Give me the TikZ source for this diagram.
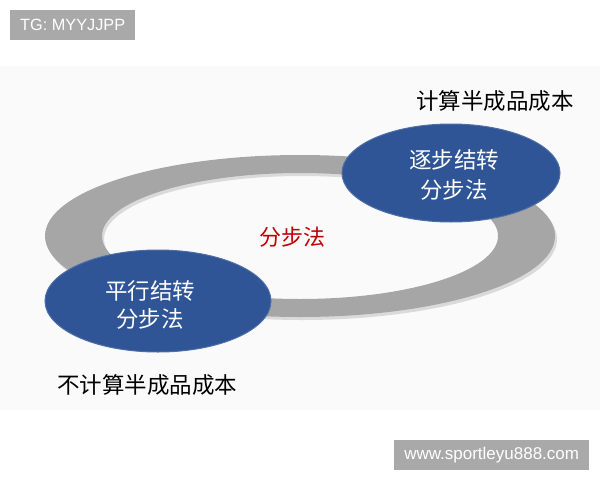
\documentclass[tikz,border=0pt]{standalone}
\usepackage{fontspec}
\setmainfont{Liberation Sans}
\newfontfamily\cjk{Noto Sans CJK SC}
\usetikzlibrary{shapes.geometric}
\definecolor{bgpale}{HTML}{FAFAFB}
\definecolor{ringgray}{HTML}{A6A6A6}
\definecolor{ringrim}{HTML}{DADADA}
\definecolor{blueell}{HTML}{2F5597}
\definecolor{darkred}{HTML}{C00000}
\definecolor{tagbg}{HTML}{A9A9A9}
\tikzset{
  blueoval/.style={ellipse, fill=blueell, draw=blueell!85!white, line width=1pt, inner sep=0pt, text=white, align=center, font=\cjk\fontsize{22}{30}\selectfont},
  caption/.style={inner sep=0pt, text=black, font=\cjk\fontsize{22.5}{26}\selectfont},
  tagbox/.style={fill=tagbg, text=white, inner sep=0pt, anchor=north west}
}
\begin{document}
\begin{tikzpicture}[x=1pt,y=-1pt]
\useasboundingbox (0,0) rectangle (600,480);
\fill[white] (0,0) rectangle (600,480);
\fill[bgpale] (0,66) rectangle (600,410);
% ring rim (shadow) and ring
\fill[ringrim, even odd rule] (302,239) ellipse [x radius=255pt, y radius=81pt]
  (302,239) ellipse [x radius=198pt, y radius=63pt];
\fill[ringgray, even odd rule] (300,236) ellipse [x radius=255pt, y radius=81pt]
  (300,236) ellipse [x radius=198pt, y radius=63pt];
% center label
\node[inner sep=0pt, text=darkred, font=\cjk\fontsize{22}{24}\selectfont] (center) at (292,237) {分步法};
% ovals
\node[blueoval, minimum width=218pt, minimum height=98pt] (topoval) at (451,173) {};
\node[inner sep=0pt, text=white, align=center, font=\cjk\fontsize{22.5}{30}\selectfont] (toptext) at (454,175) {逐步结转\\分步法};
\node[blueoval, minimum width=226pt, minimum height=102pt] (botoval) at (158,301) {};
\node[inner sep=0pt, text=white, align=center, font=\cjk\fontsize{22.5}{28}\selectfont] (bottext) at (150,305) {平行结转\\分步法};
% captions
\node[caption] (captop) at (495,101) {计算半成品成本};
\node[caption] (capbot) at (147,385) {不计算半成品成本};
% tags
\node[tagbox, minimum width=125pt, minimum height=30pt, font=\fontsize{16.3}{18}\selectfont] (tg) at (10,10) {TG: MYYJJPP};
\node[tagbox, minimum width=195pt, minimum height=30pt, font=\fontsize{17}{19}\selectfont] (www) at (394,440) {www.sportleyu888.com};
\end{tikzpicture}
\end{document}
